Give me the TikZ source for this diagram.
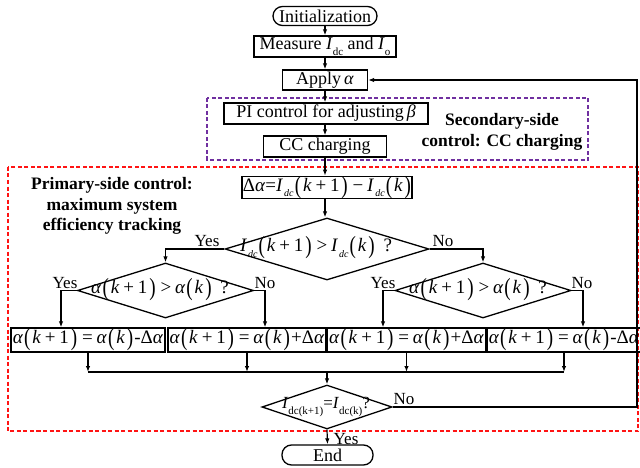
\documentclass[tikz,border=0pt]{standalone}
\usepackage{fontspec}
\usepackage{graphicx}
\setmainfont{Liberation Serif}
\usetikzlibrary{shapes.geometric,arrows.meta}
\newcommand{\ia}{\textit{α}}
\newcommand{\ik}{\textit{k}}
\newcommand{\Lp}{\hspace{0.06em}\raisebox{-0.12em}{\scalebox{1}[1.3]{(}}\hspace{0.1em}}
\newcommand{\Rp}{\hspace{0.1em}\raisebox{-0.12em}{\scalebox{1}[1.3]{)}}\hspace{0.06em}}
\newcommand{\op}[1]{\hspace{0.2em}#1\hspace{0.2em}}
\newcommand{\Idc}{\textit{I}\hspace{0.05em}\raisebox{-0.3em}{\fontsize{10}{10}\selectfont\textit{dc}}}
\begin{document}
\begin{tikzpicture}[x=1pt,y=-1pt,
  font=\fontsize{18}{20}\selectfont,
  box/.style={draw, line width=1.3pt, rectangle, inner sep=0pt, minimum height=21pt},
  term/.style={box, rounded corners=9.5pt, minimum height=19pt},
  dia/.style={draw, line width=1.3pt, diamond, inner sep=0pt},
  fml/.style={inner sep=0pt, font=\fontsize{19}{20}\selectfont},
  ln/.style={line width=1.2pt},
  arr/.style={ln, -{Latex[length=6pt,width=4.5pt]}},
  yn/.style={inner sep=0pt, font=\fontsize{17}{17}\selectfont},
  grp/.style={inner sep=0pt, align=center, font=\fontsize{17.5}{20.5}\selectfont\bfseries},
  secbox/.style={draw={rgb,255:red,112;green,48;blue,160}, line width=1.8pt, dash pattern=on 4pt off 2.5pt},
  pribox/.style={draw={rgb,255:red,255;green,20;blue,20}, line width=1.8pt, dash pattern=on 4pt off 2.5pt}
]
\useasboundingbox (0,0) rectangle (640,468);
% group frames
\draw[secbox] (207,98) rectangle (588,160);
\draw[pribox] (8,167) rectangle (638,431);
\node[grp] (sec) at (502,132) {Secondary-side\\control: CC charging};
\node[grp] (pri) at (112,206) {Primary-side control:\\maximum system\\efficiency tracking};
% top chain
\node[term, minimum width=104pt] (init) at (325,16) {Initialization};
\node[box, minimum width=142pt] (meas) at (325,46.5) {Measure \textit{I}\raisebox{-0.3em}{\fontsize{11}{11}\selectfont dc} and \textit{I}\raisebox{-0.3em}{\fontsize{11}{11}\selectfont o}};
\node[box, minimum width=85pt, minimum height=20pt] (apply) at (325,80) {Apply\,\ia};
\node[box, minimum width=204pt] (pi) at (326,113.5) {PI control for adjusting\,\textit{β}};
\node[box, minimum width=123pt] (cc) at (325,146.5) {CC charging};
\node[box, minimum width=170pt, font=\fontsize{19}{20}\selectfont] (da) at (327,187.5) {Δ\ia=\Idc\Lp\ik\op{+}1\Rp\op{−}\Idc\Lp\ik\Rp};
% decisions
\node[dia, minimum width=204pt, minimum height=62pt] (d1) at (327,249) {};
\node[fml] (d1t) at (316,248) {\Idc\Lp\ik\op{+}1\Rp\op{>}\Idc\Lp\ik\Rp\hspace{0.4em}?};
\node[dia, minimum width=176pt, minimum height=55pt] (d2) at (165.5,290.5) {};
\node[fml] (d2t) at (160,289.5) {\ia\Lp\ik\op{+}1\Rp\op{>}\ia\Lp\ik\Rp\hspace{0.4em}?};
\node[dia, minimum width=176pt, minimum height=55pt] (d3) at (483,290.5) {};
\node[fml] (d3t) at (478,289.5) {\ia\Lp\ik\op{+}1\Rp\op{>}\ia\Lp\ik\Rp\hspace{0.4em}?};
% actions
\node[box, minimum width=154pt, minimum height=24pt, font=\fontsize{19}{20}\selectfont] (b1) at (88,340) {\ia\Lp\ik\op{+}1\Rp\op{=}\ia\Lp\ik\Rp-Δ\ia};
\node[box, minimum width=158pt, minimum height=24pt, font=\fontsize{19}{20}\selectfont] (b2) at (247,340) {\ia\Lp\ik\op{+}1\Rp\op{=}\ia\Lp\ik\Rp+Δ\ia};
\node[box, minimum width=159pt, minimum height=24pt, font=\fontsize{19}{20}\selectfont] (b3) at (406.5,340) {\ia\Lp\ik\op{+}1\Rp\op{=}\ia\Lp\ik\Rp+Δ\ia};
\node[box, minimum width=154pt, minimum height=24pt, font=\fontsize{19}{20}\selectfont] (b4) at (564,340) {\ia\Lp\ik\op{+}1\Rp\op{=}\ia\Lp\ik\Rp-Δ\ia};
% final check
\node[dia, minimum width=130pt, minimum height=44pt] (d4) at (327,407) {};
\node[inner sep=0pt, font=\fontsize{17}{17}\selectfont] (d4t) at (326,407) {\textit{I}\raisebox{-0.3em}{\fontsize{11}{11}\selectfont dc(k+1)}=\textit{I}\raisebox{-0.3em}{\fontsize{11}{11}\selectfont dc(k)}?};
\node[term, minimum width=91pt, minimum height=20pt] (end) at (327.5,455) {End};
% coordinates
\coordinate (y2) at (61,290.5);
\coordinate (n2) at (265,290.5);
\coordinate (y3) at (383,290.5);
\coordinate (n3) at (583,290.5);
\coordinate (m) at (327,372);
\coordinate (lr) at (637,407);
\coordinate (ur) at (637,80);
% connectors
\draw[arr] (init.south) -- (init.south |- meas.north);
\draw[arr] (meas.south) -- (meas.south |- apply.north);
\draw[arr] (apply.south) -- (apply.south |- pi.north);
\draw[arr] (apply.south |- pi.south) -- (apply.south |- cc.north);
\draw[arr] (cc.south) -- (cc.south |- da.north);
\draw[arr] (cc.south |- da.south) -- (cc.south |- d1.north);
\draw[arr] (d1.west) -| (d2.north);
\draw[arr] (d1.east) -| (d3.north);
\draw[arr] (d2.west) -- (y2) -- (y2 |- b1.north);
\draw[arr] (d2.east) -- (n2) -- (n2 |- b2.north);
\draw[arr] (d3.west) -- (y3) -- (y3 |- b3.north);
\draw[arr] (d3.east) -- (n3) -- (n3 |- b4.north);
\draw[arr] (b1.south) -- (b1.south |- m);
\draw[arr] (b2.south) -- (b2.south |- m);
\draw[arr] (b3.south) -- (b3.south |- m);
\draw[arr] (b4.south) -- (b4.south |- m);
\draw[ln] (b1.south |- m) -- (b4.south |- m);
\draw[arr] (m) -- (d4.north);
\draw[arr] (d4.east) -- (lr) -- (ur) -- (apply.east);
\draw[arr] (d4.south) -- (end.north);
% yes/no labels
\node[yn] (l1) at (207,241) {Yes};
\node[yn] (l2) at (443,241) {No};
\node[yn] (l3) at (65,283) {Yes};
\node[yn] (l4) at (265,283) {No};
\node[yn] (l5) at (383,283) {Yes};
\node[yn] (l6) at (582,283) {No};
\node[yn] (l7) at (404,399) {No};
\node[yn] (l8) at (346,439) {Yes};
\end{tikzpicture}
\end{document}
